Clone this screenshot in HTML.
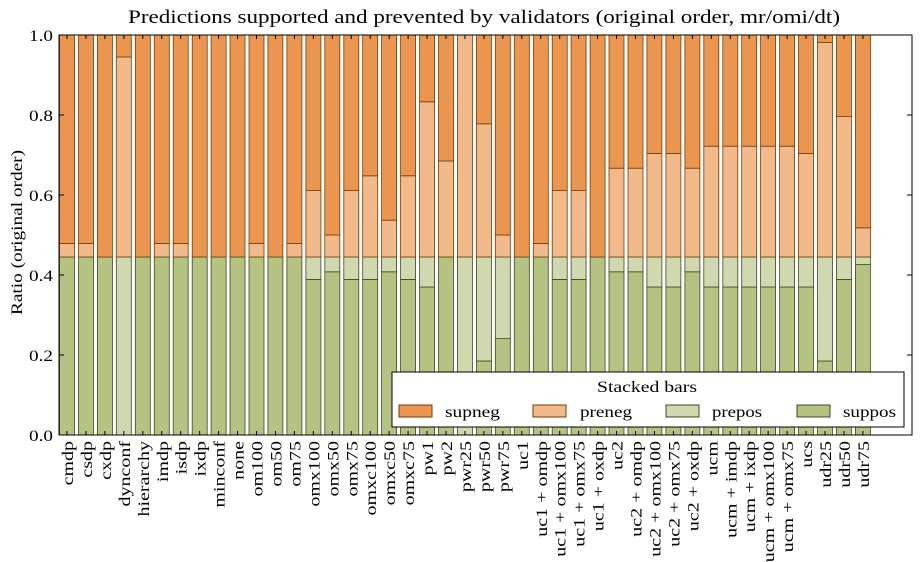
<!DOCTYPE html>
<html><head><meta charset="utf-8"><style>
body{margin:0;background:#fff;width:921px;height:562px;overflow:hidden}
svg{display:block;font-family:"Liberation Serif",serif}
</style></head><body>
<svg id="s" width="921" height="562" xmlns="http://www.w3.org/2000/svg">
<text x="128" y="23" font-size="19" textLength="712" lengthAdjust="spacingAndGlyphs">Predictions supported and prevented by validators (original order, mr/omi/dt)</text>
<text transform="translate(22,315) rotate(-90)" font-size="16" textLength="165" lengthAdjust="spacingAndGlyphs">Ratio (original order)</text>
<g id="bars"></g>
<rect x="59" y="35" width="853" height="400" fill="none" stroke="#000" stroke-width="1"/>
<g id="ticks" font-size="16"></g>
<g id="xl" font-size="16"></g>
<rect x="392" y="372" width="512" height="55" fill="#fff" stroke="#000" stroke-width="1"/>
<text x="597" y="392" font-size="16" textLength="100" lengthAdjust="spacingAndGlyphs">Stacked bars</text>
<rect x="399" y="405" width="33" height="12" fill="#EA9650" stroke="#7a3a00"/>
<text x="445" y="417" font-size="16" textLength="55" lengthAdjust="spacingAndGlyphs">supneg</text>
<rect x="533" y="405" width="33" height="12" fill="#F2B98A" stroke="#7a3a00"/>
<text x="580" y="417" font-size="16" textLength="52" lengthAdjust="spacingAndGlyphs">preneg</text>
<rect x="666" y="405" width="33" height="12" fill="#D0D8B0" stroke="#3d4a1d"/>
<text x="712" y="417" font-size="16" textLength="50" lengthAdjust="spacingAndGlyphs">prepos</text>
<rect x="797" y="405" width="33" height="12" fill="#B4C282" stroke="#3d4a1d"/>
<text x="843" y="417" font-size="16" textLength="53" lengthAdjust="spacingAndGlyphs">suppos</text>
</svg>
<script>
var names=["cmdp","csdp","cxdp","dynconf","hierarchy","imdp","isdp","ixdp","minconf","none","om100","om50","om75","omx100","omx50","omx75","omxc100","omxc50","omxc75","pw1","pw2","pwr25","pwr50","pwr75","uc1","uc1 + omdp","uc1 + omx100","uc1 + omx75","uc1 + oxdp","uc2","uc2 + omdp","uc2 + omx100","uc2 + omx75","uc2 + oxdp","ucm","ucm + imdp","ucm + ixdp","ucm + omx100","ucm + omx75","ucs","udr25","udr50","udr75"];
var d=[[.445,.445,.479],[.445,.445,.479],[.445,.445,.445],[0,.445,.945],[.445,.445,.445],[.445,.445,.479],[.445,.445,.479],[.445,.445,.445],[.445,.445,.445],[.445,.445,.445],[.445,.445,.479],[.445,.445,.445],[.445,.445,.479],[.389,.445,.611],[.408,.445,.5],[.389,.445,.611],[.389,.445,.648],[.408,.445,.537],[.389,.445,.648],[.37,.445,.833],[.445,.445,.685],[0,.445,1],[.185,.445,.778],[.241,.445,.5],[.445,.445,.445],[.445,.445,.479],[.389,.445,.611],[.389,.445,.611],[.445,.445,.445],[.408,.445,.667],[.408,.445,.667],[.37,.445,.704],[.37,.445,.704],[.408,.445,.667],[.37,.445,.722],[.37,.445,.722],[.37,.445,.722],[.37,.445,.722],[.37,.445,.722],[.37,.445,.704],[.185,.445,.981],[.389,.445,.796],[.426,.445,.518]];
function Y(v){return 435-400*v}
var h="",xl="",t="";
for(var i=0;i<43;i++){var x=59.5+i*18.95,w=15,a=d[i];
var segs=[[0,a[0],"#B4C282","#3d4a1d"],[a[0],a[1],"#D0D8B0","#3d4a1d"],[a[1],a[2],"#F2B98A","#7a3a00"],[a[2],1,"#EA9650","#7a3a00"]];
segs.forEach(function(s){if(s[1]-s[0]>0.0005)h+='<rect x="'+x.toFixed(1)+'" y="'+Y(s[1]).toFixed(1)+'" width="'+w+'" height="'+(400*(s[1]-s[0])).toFixed(1)+'" fill="'+s[2]+'" stroke="'+s[3]+'" stroke-width="0.8"/>';});
var c=x+w/2;
t+='<line x1="'+c+'" y1="435" x2="'+c+'" y2="431" stroke="#000"/><line x1="'+c+'" y1="35" x2="'+c+'" y2="39" stroke="#000"/>';
xl+='<text transform="translate('+(c+6)+',441) rotate(-90) scale(1.25,1)" text-anchor="end">'+names[i]+'</text>';}
for(var k=0;k<=5;k++){var y=Y(k*0.2);
t+='<line x1="59" y1="'+y+'" x2="64" y2="'+y+'" stroke="#000"/><line x1="912" y1="'+y+'" x2="907" y2="'+y+'" stroke="#000"/>';
t+='<text transform="translate(53,'+(y+6)+') scale(1.2,1)" text-anchor="end">'+(k*0.2).toFixed(1)+'</text>';}
document.getElementById("bars").innerHTML=h;
document.getElementById("ticks").innerHTML=t;
document.getElementById("xl").innerHTML=xl;
</script>
</body></html>
